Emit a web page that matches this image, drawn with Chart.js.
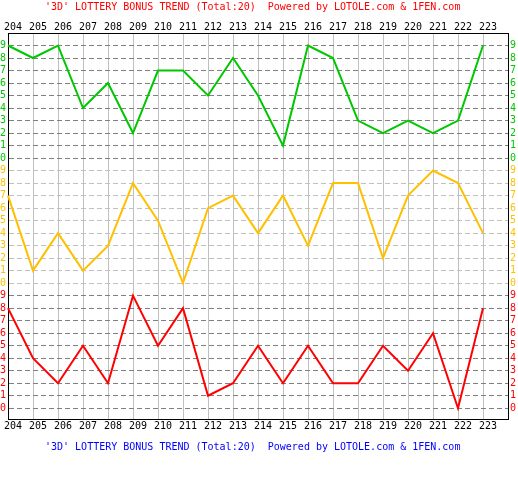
<!DOCTYPE html>
<html>
<head>
<meta charset="utf-8">
<script src="https://cdn.jsdelivr.net/npm/chart.js@4/dist/chart.umd.min.js"></script>
<style>
html,body{margin:0;padding:0;background:#fff;overflow:hidden}
canvas{display:block}
</style>
</head>
<body>
<canvas id="c" width="518" height="500"></canvas>
<script>
// ---- data ----
const periods = ['204','205','206','207','208','209','210','211','212','213','214','215','216','217','218','219','220','221','222','223'];
const digitLabels = ['0','1','2','3','4','5','6','7','8','9'];
const hundreds = [9,8,9,4,6,2,7,7,5,8,5,1,9,8,3,2,3,2,3,9];   // top band (green)
const tens     = [7,1,4,1,3,8,5,0,6,7,4,7,3,8,8,2,7,9,8,4];   // middle band (yellow)
const units    = [8,4,2,5,2,9,5,8,1,2,5,2,5,2,2,5,3,6,0,8];   // bottom band (red)
const titleText = "'3D' LOTTERY BONUS TREND (Total:20)  Powered by LOTOLE.com & 1FEN.com";

// ---- styling ----
const bandColors = ['#ff0000', '#ffc000', '#00c800']; // bottom, middle, top
const FONT = {family: '"DejaVu Sans Mono", "Liberation Mono", monospace', size: 10, lineHeight: 1.2};

const tickValues = [];
for (let b = 0; b < 3; b++) for (let d = 0; d < digitLabels.length; d++) tickValues.push(b * 10 + d);

const titlePlugin = {
  id: 'lottoTitles',
  afterDraw(chart) {
    const ctx = chart.ctx;
    ctx.save();
    ctx.font = '10px "DejaVu Sans Mono", "Liberation Mono", monospace';
    ctx.textAlign = 'left';
    ctx.textBaseline = 'middle';
    ctx.fillStyle = '#ff0000';
    ctx.fillText(titleText, 45, 7);
    ctx.fillStyle = '#0000ff';
    ctx.fillText(titleText, 45, 447);
    ctx.restore();
  }
};

function zeroPad(s) { s.paddingLeft = 0; s.paddingRight = 0; s.paddingTop = 0; s.paddingBottom = 0; }

const yTicks = {
  autoSkip: false,
  padding: 2,
  font: FONT,
  callback: v => digitLabels[v % 10],
  color: c => bandColors[Math.floor(c.tick.value / 10)]
};

new Chart(document.getElementById('c'), {
  type: 'line',
  data: {
    labels: [...periods, ''],
    datasets: [
      {data: hundreds.map(d => d + 20), borderColor: bandColors[2]},
      {data: tens.map(d => d + 10), borderColor: bandColors[1]},
      {data: units.map(d => d), borderColor: bandColors[0]}
    ].map(ds => Object.assign(ds, {borderWidth: 2, pointRadius: 0, tension: 0, fill: false, yAxisID: 'y', xAxisID: 'x'}))
  },
  options: {
    responsive: false,
    animation: false,
    events: [],
    layout: {padding: {top: 15, bottom: 62.5, left: 0, right: 0}},
    plugins: {legend: {display: false}, tooltip: {enabled: false}, title: {display: false}},
    scales: {
      x: {
        type: 'category', position: 'bottom', offset: false,
        grid: {color: '#c0c0c0', lineWidth: 1, drawTicks: false},
        border: {display: true, color: '#000000', width: 1, dash: []},
        ticks: {color: '#000000', font: FONT, padding: 1, labelOffset: 5, autoSkip: false, maxRotation: 0, minRotation: 0},
        afterFit: s => { s.height = 18; zeroPad(s); }
      },
      x2: {
        type: 'category', position: 'top', offset: false, display: true,
        grid: {display: false, drawTicks: false},
        border: {display: true, color: '#000000', width: 1},
        ticks: {color: '#000000', font: FONT, padding: 0, labelOffset: 5, autoSkip: false, maxRotation: 0, minRotation: 0},
        afterFit: s => { s.height = 18; zeroPad(s); }
      },
      y: {
        type: 'linear', position: 'left', min: -0.9, max: 30,
        afterBuildTicks: s => { s.ticks = tickValues.map(v => ({value: v})); },
        grid: {
          drawTicks: false, lineWidth: 1,
          color: c => (c.tick && Math.floor(c.tick.value / 10) === 1) ? '#c0c0c0' : '#808080'
        },
        border: {display: true, color: '#000000', width: 1, dash: c => c.type === 'tick' ? [5, 3] : []},
        ticks: yTicks,
        afterFit: s => { s.width = 8; zeroPad(s); }
      },
      y2: {
        type: 'linear', position: 'right', min: -0.9, max: 30, display: true,
        afterBuildTicks: s => { s.ticks = tickValues.map(v => ({value: v})); },
        grid: {display: false, drawTicks: false},
        border: {display: true, color: '#000000', width: 1},
        ticks: yTicks,
        afterFit: s => { s.width = 10; zeroPad(s); }
      }
    }
  },
  plugins: [titlePlugin]
});
</script>
</body>
</html>
